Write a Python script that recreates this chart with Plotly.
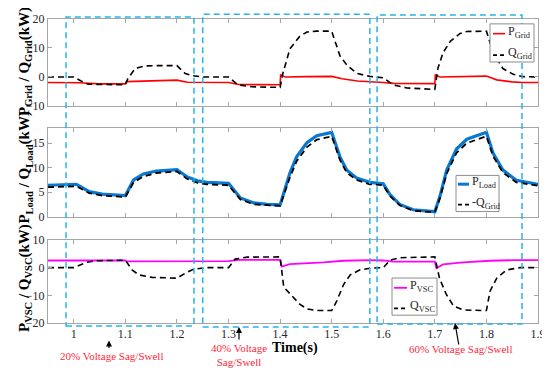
import plotly.graph_objects as go
from plotly.subplots import make_subplots

# ---------------- data ----------------
t_pgrid = [0.95, 1.00, 1.01, 1.05, 1.10, 1.102, 1.15, 1.20, 1.22, 1.25, 1.30, 1.32, 1.40, 1.401, 1.41, 1.45, 1.50,
           1.52, 1.55, 1.60, 1.62, 1.70, 1.701, 1.71, 1.75, 1.80, 1.82, 1.85, 1.87, 1.90]
p_grid = [-1.9, -1.9, -2.0, -2.4, -2.4, -1.6, -1.3, -1.1, -1.8, -1.9, -1.9, -2.6, -2.7, 0.7, 0.0, 0.1, 0.2,
          -0.6, -1.4, -1.9, -2.2, -2.3, 0.7, 0.0, 0.2, 0.3, -1.0, -1.7, -1.9, -1.9]

t_qgrid = [0.95, 1.00, 1.015, 1.028, 1.10, 1.105, 1.119, 1.138, 1.16, 1.20, 1.216, 1.231, 1.25, 1.30, 1.318, 1.345,
           1.40, 1.405, 1.419, 1.438, 1.452, 1.47, 1.50, 1.516, 1.53, 1.549, 1.574, 1.60, 1.619, 1.646, 1.70, 1.706,
           1.716, 1.73, 1.749, 1.762, 1.80, 1.813, 1.832, 1.852, 1.871, 1.90]
q_grid = [0.0, 0.0, -1.5, -2.5, -2.7, -0.5, 2.9, 3.8, 3.9, 3.9, 1.2, 0.4, 0.0, 0.0, -2.7, -3.4,
          -3.6, 1.0, 9.7, 14.0, 15.5, 15.8, 15.8, 7.3, 4.0, 1.2, 0.2, -0.3, -2.7, -3.8, -4.3, 3.0,
          8.4, 12.3, 15.0, 15.7, 15.8, 8.4, 2.9, 0.9, 0.1, 0.0]

t_load = [0.95, 1.00, 1.005, 1.03, 1.055, 1.10, 1.116, 1.135, 1.16, 1.20, 1.22, 1.24, 1.258, 1.30, 1.323, 1.349,
          1.375, 1.40, 1.419, 1.432, 1.452, 1.471, 1.50, 1.516, 1.529, 1.548, 1.574, 1.60, 1.613, 1.632, 1.658,
          1.70, 1.71, 1.723, 1.742, 1.762, 1.80, 1.813, 1.832, 1.858, 1.90]
p_load = [6.4, 6.6, 6.6, 5.1, 4.6, 4.3, 7.5, 8.7, 9.3, 9.6, 8.1, 7.3, 7.0, 6.8, 3.8, 2.8,
          2.5, 2.4, 8.9, 12.2, 15.1, 16.5, 17.2, 12.2, 9.5, 7.9, 7.0, 6.7, 4.5, 2.5, 1.4,
          1.0, 4.2, 9.5, 13.8, 15.8, 17.2, 12.9, 9.5, 7.4, 6.6]
neg_q_grid_load = [6.0, 6.2, 6.2, 4.8, 4.3, 4.0, 7.0, 8.2, 8.9, 9.2, 7.7, 6.9, 6.6, 6.4, 3.5, 2.5,
                   2.3, 2.2, 8.0, 11.3, 14.2, 15.7, 16.4, 11.6, 9.0, 7.5, 6.6, 6.4, 4.2, 2.3, 1.2,
                   0.9, 3.8, 8.8, 13.0, 15.0, 16.4, 12.3, 9.0, 7.0, 6.3]

t_pvsc = [0.95, 1.10, 1.102, 1.30, 1.32, 1.40, 1.403, 1.419, 1.484, 1.523, 1.574, 1.60, 1.62, 1.70, 1.703,
          1.716, 1.755, 1.807, 1.85, 1.90]
p_vsc = [2.6, 2.6, 2.3, 2.4, 2.8, 2.8, 0.4, 1.3, 1.9, 2.5, 2.7, 2.6, 2.2, 2.2, -0.2,
         1.2, 1.9, 2.5, 2.7, 2.7]

t_qvsc = [0.95, 1.00, 1.024, 1.043, 1.10, 1.113, 1.126, 1.152, 1.20, 1.216, 1.232, 1.255, 1.30, 1.313, 1.336,
          1.40, 1.407, 1.419, 1.438, 1.452, 1.471, 1.50, 1.51, 1.523, 1.536, 1.555, 1.574, 1.60, 1.613, 1.632,
          1.70, 1.709, 1.722, 1.736, 1.755, 1.80, 1.807, 1.82, 1.839, 1.865, 1.90]
q_vsc = [0.0, 0.0, 1.9, 2.5, 2.7, -0.8, -2.6, -3.5, -3.8, -2.0, -0.6, 0.0, 0.0, 3.1, 3.8,
         3.9, -7.0, -9.5, -13.2, -14.9, -15.5, -15.5, -12.0, -6.1, -2.6, -0.8, -0.2, 0.0, 2.7, 3.6,
         3.9, -3.8, -9.6, -13.8, -15.3, -15.5, -8.5, -3.8, -0.8, 0.0, 0.0]

x_ticks = [1.0, 1.1, 1.2, 1.3, 1.4, 1.5, 1.6, 1.7, 1.8, 1.9]
x_tick_labels = ["1", "1.1", "1.2", "1.3", "1.4", "1.5", "1.6", "1.7", "1.8", "1.9"]
y1_ticks = [-10, 0, 10, 20]
y2_ticks = [0, 5, 10, 15]
y3_ticks = [-20, -10, 0, 10]

# event windows (x extent of the dashed boxes)
box_x0 = [0.985, 1.250, 1.588]
box_x1 = [1.233, 1.574, 1.869]
box_top = [1.0064, 1.016, 1.0129]
box_bot = [-0.0096, -0.0129, -0.0032]

# ---------------- figure ----------------
SERIF = "Liberation Serif, Times New Roman, serif"
DASH = "6px,4px"
RED = "#ff0000"
BLUE = "#0b78d0"
MAG = "#ff00ff"
CYAN = "#27b3ec"
AX = "#a6a6a6"

fig = make_subplots(rows=3, cols=1, shared_xaxes=True)

fig.add_trace(go.Scatter(x=t_pgrid, y=p_grid, mode="lines", name="P_Grid",
                         line=dict(color=RED, width=1.6)), row=1, col=1)
fig.add_trace(go.Scatter(x=t_qgrid, y=q_grid, mode="lines", name="Q_Grid",
                         line=dict(color="black", width=1.6, dash=DASH)), row=1, col=1)
fig.add_trace(go.Scatter(x=t_load, y=p_load, mode="lines", name="P_Load",
                         line=dict(color=BLUE, width=3.2)), row=2, col=1)
fig.add_trace(go.Scatter(x=t_load, y=neg_q_grid_load, mode="lines", name="-Q_Grid",
                         line=dict(color="black", width=1.8, dash=DASH)), row=2, col=1)
fig.add_trace(go.Scatter(x=t_pvsc, y=p_vsc, mode="lines", name="P_VSC",
                         line=dict(color=MAG, width=1.8)), row=3, col=1)
fig.add_trace(go.Scatter(x=t_qvsc, y=q_vsc, mode="lines", name="Q_VSC",
                         line=dict(color="black", width=1.6, dash=DASH)), row=3, col=1)

axis_common = dict(showline=True, mirror="ticks", linecolor=AX, linewidth=1, ticks="inside",
                   ticklen=4, tickcolor=AX, showgrid=False, zeroline=False,
                   tickfont=dict(family=SERIF, size=12, color="#262626"))

for i, name in enumerate(["xaxis", "xaxis2", "xaxis3"]):
    fig.layout[name].update(range=[0.95, 1.9], tickvals=x_ticks, ticktext=x_tick_labels,
                            showticklabels=(i == 2), domain=[0, 1], **axis_common)

fig.layout.yaxis.update(range=[-10, 20], tickvals=y1_ticks, domain=[0.714, 1.0], **axis_common)
fig.layout.yaxis2.update(range=[0, 18], tickvals=y2_ticks, domain=[0.350, 0.640], **axis_common)
fig.layout.yaxis3.update(range=[-20, 10], tickvals=y3_ticks, domain=[0.0, 0.273], **axis_common)

shapes = []
for x0, x1, yt, yb in zip(box_x0, box_x1, box_top, box_bot):
    shapes.append(dict(type="rect", xref="x", yref="paper", x0=x0, x1=x1, y0=yb, y1=yt,
                       line=dict(color=CYAN, width=1.5, dash="6px,4px"), fillcolor="rgba(0,0,0,0)"))

annotations = []


def px2x(px):
    return (px - 48) / 490.0


def px2y(py):
    return (323 - py) / 311.0


# manual legends (short line samples like the original)
legends = [
    ((490, 534, 17, 56), 493, 505, [("P<sub>Grid</sub>", RED, 1.6, None, 27),
                                    ("Q<sub>Grid</sub>", "black", 1.6, "4px,3px", 49)]),
    ((456, 499, 172, 209), 458, 469, [("P<sub>Load</sub>", BLUE, 3, None, 181),
                                      ("-Q<sub>Grid</sub>", "black", 1.8, "4px,3px", 202)]),
    ((392, 437, 277, 315), 394, 407, [("P<sub>VSC</sub>", MAG, 1.8, None, 287),
                                      ("Q<sub>VSC</sub>", "black", 1.6, "4px,3px", 308)]),
]
for (bx0, bx1, by0, by1), sx0, sx1, entries in legends:
    shapes.append(dict(type="rect", xref="paper", yref="paper", x0=px2x(bx0), x1=px2x(bx1),
                       y0=px2y(by1), y1=px2y(by0), line=dict(color="#8c8c8c", width=1),
                       fillcolor="white"))
    for label, col, w, dsh, ypx in entries:
        ln = dict(color=col, width=w)
        if dsh:
            ln["dash"] = dsh
        shapes.append(dict(type="line", xref="paper", yref="paper", x0=px2x(sx0), x1=px2x(sx1),
                           y0=px2y(ypx), y1=px2y(ypx), line=ln))
        annotations.append(dict(xref="paper", yref="paper", x=px2x(sx1 + 1), y=px2y(ypx - 2),
                                text=label, showarrow=False, xanchor="left", yanchor="middle",
                                font=dict(family=SERIF, size=12, color="#262626")))

# y-axis titles
ytitles = [("P<sub>Grid</sub> / Q<sub>Grid</sub>(kW)", 56),
           ("P<sub>Load</sub> / Q<sub>Load</sub>(kW)", 164),
           ("P<sub>VSC</sub> / Q<sub>VSC</sub>(kW)", 277)]
for txt, ypx in ytitles:
    annotations.append(dict(xref="paper", yref="paper", x=px2x(25), y=px2y(ypx), text="<b>" + txt + "</b>",
                            textangle=-90, showarrow=False, xanchor="center", yanchor="middle",
                            font=dict(family=SERIF, size=15, color="black")))

# x-axis title
annotations.append(dict(xref="paper", yref="paper", x=px2x(295), y=px2y(349), text="<b>Time(s)</b>",
                        showarrow=False, xanchor="center", yanchor="middle",
                        font=dict(family=SERIF, size=14, color="black")))

# event labels
RED_TXT = "#ff1f3d"
annotations += [
    dict(xref="paper", yref="paper", x=px2x(111), y=px2y(357), text="20% Voltage Sag/Swell",
         showarrow=False, xanchor="center", yanchor="middle",
         font=dict(family=SERIF, size=11, color=RED_TXT)),
    dict(xref="paper", yref="paper", x=px2x(239), y=px2y(356), text="40% Voltage<br>Sag/Swell",
         showarrow=False, xanchor="center", yanchor="middle",
         font=dict(family=SERIF, size=11, color=RED_TXT)),
    dict(xref="paper", yref="paper", x=px2x(460), y=px2y(350), text="60% Voltage Sag/Swell",
         showarrow=False, xanchor="center", yanchor="middle",
         font=dict(family=SERIF, size=11, color=RED_TXT)),
    dict(xref="paper", yref="paper", x=px2x(109), y=px2y(341), ax=0, ay=9, text="",
         showarrow=True, arrowhead=2, arrowsize=1, arrowwidth=1.2, arrowcolor="black"),
    dict(xref="paper", yref="paper", x=px2x(239), y=px2y(327), ax=0, ay=14, text="",
         showarrow=True, arrowhead=2, arrowsize=1, arrowwidth=1.2, arrowcolor="black"),
    dict(xref="paper", yref="paper", x=px2x(455), y=px2y(323), ax=4, ay=23, text="",
         showarrow=True, arrowhead=2, arrowsize=1, arrowwidth=1.2, arrowcolor="black"),
]

# the page places the figure 8px in from the window's top-left corner; margins compensate
fig.update_layout(width=550, height=372, margin=dict(l=40, r=20, t=4, b=57),
                  plot_bgcolor="white", paper_bgcolor="white", showlegend=False,
                  shapes=shapes, annotations=annotations)

fig.write_html("out.html")
